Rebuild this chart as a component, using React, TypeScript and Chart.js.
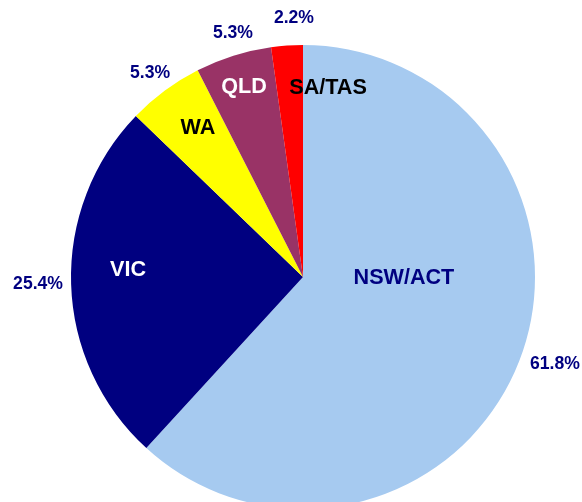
import React, { useEffect, useRef } from "react";
import { Chart, registerables } from "chart.js";

Chart.register(...registerables);

const categories = ["NSW/ACT", "VIC", "WA", "QLD", "SA/TAS"];
const shares = [61.8, 25.4, 5.3, 5.3, 2.2];
const percentLabels = ["61.8%", "25.4%", "5.3%", "5.3%", "2.2%"];

const sliceColors = ["#A6CAF0", "#000080", "#FFFF00", "#993366", "#FF0000"];
const nameColors = ["#000080", "#FFFFFF", "#000000", "#FFFFFF", "#000000"];
// label anchor positions as fractions of the pie radius, relative to the pie centre
const nameAnchors = [
  [0.435, 0.004],
  [-0.754, -0.03],
  [-0.453, -0.642],
  [-0.254, -0.819],
  [0.108, -0.815],
];
const pctAnchors = [
  [1.086, 0.375],
  [-1.142, 0.03],
  [-0.659, -0.879],
  [-0.302, -1.052],
  [-0.039, -1.114],
];

const labelPlugin = {
  id: "pieLabels",
  afterDatasetsDraw(chart: any) {
    const ctx = chart.ctx;
    const meta = chart.getDatasetMeta(0);
    const first = meta.data[0];
    if (!first) return;
    const cx = first.x;
    const cy = first.y;
    const r = first.outerRadius;
    ctx.save();
    ctx.textAlign = "center";
    ctx.textBaseline = "middle";
    meta.data.forEach((_: any, i: number) => {
      ctx.font = "bold 21.6px 'Liberation Sans', Arial, sans-serif";
      ctx.fillStyle = nameColors[i];
      ctx.fillText(categories[i], cx + nameAnchors[i][0] * r, cy + nameAnchors[i][1] * r);
      ctx.font = "bold 17.6px 'Liberation Sans', Arial, sans-serif";
      ctx.fillStyle = "#000080";
      ctx.fillText(percentLabels[i], cx + pctAnchors[i][0] * r, cy + pctAnchors[i][1] * r);
    });
    ctx.restore();
  },
};

export default function App() {
  const ref = useRef<HTMLCanvasElement>(null);
  useEffect(() => {
    if (!ref.current) return;
    const chart = new Chart(ref.current, {
      type: "pie",
      data: {
        labels: categories,
        datasets: [
          {
            data: shares,
            backgroundColor: sliceColors,
            borderWidth: 0,
          },
        ],
      },
      options: {
        animation: false,
        responsive: false,
        maintainAspectRatio: false,
        layout: { padding: { top: 45, bottom: 51, left: 71, right: 47 } },
        plugins: {
          legend: { display: false },
          tooltip: { enabled: false },
        },
      },
      plugins: [labelPlugin],
    });
    return () => chart.destroy();
  }, []);
  return (
    <div
      style={{
        position: "absolute",
        left: 0,
        top: 0,
        width: 582,
        height: 502,
        overflow: "hidden",
        background: "#FFFFFF",
      }}
    >
      <canvas ref={ref} width={582} height={560} style={{ display: "block" }} />
    </div>
  );
}
